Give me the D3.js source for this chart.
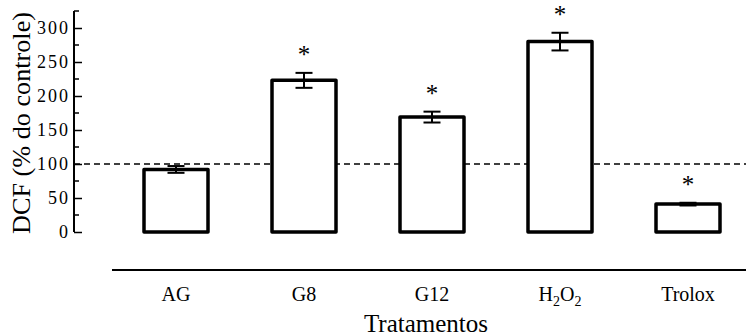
<!DOCTYPE html>
<html><head><meta charset="utf-8">
<script src="https://cdn.jsdelivr.net/npm/d3@7"></script>
<style>body{margin:0;background:#fff}svg{display:block}</style>
</head><body>
<svg id="c" width="746" height="336" font-family="Liberation Serif"></svg>
<script>
const categories = ["AG","G8","G12","H2O2","Trolox"];
const values = [92, 223, 169, 280, 41];
const errors = [5, 11, 8, 13, 2];
const significant = [false, true, true, true, true];
const yTicks = [0,50,100,150,200,250,300];
const minorTicks = [25,75,125,175,225,275,325];
const controlLevel = 100;
const FF = "Liberation Serif";

const svg = d3.select("#c");
const y = d3.scaleLinear().domain([0,325]).range([232,11]);
const x = d3.scalePoint().domain(categories).range([176,688]);
const bw = 64;
const ax = 74;

svg.append("line").attr("x1",ax).attr("x2",746).attr("y1",y(controlLevel)).attr("y2",y(controlLevel))
  .attr("stroke","#000").attr("stroke-width",1.5).attr("stroke-dasharray","6,4");

const yAxis = d3.axisRight(y).tickValues(yTicks).tickSize(8).tickFormat(d=>d);
const gy = svg.append("g").attr("transform","translate("+ax+",0)").call(yAxis).attr("font-family",FF);
gy.select(".domain").attr("d","M0,"+y(325)+"V"+y(0)).attr("stroke-width",2);
gy.selectAll(".tick line").attr("stroke-width",1.5);
gy.selectAll(".tick text").attr("x",-4).attr("text-anchor","end").attr("font-size",18)
  .attr("letter-spacing",2).attr("font-family",FF);
gy.selectAll(".minor").data(minorTicks).enter().append("line").attr("class","minor")
  .attr("x1",0).attr("x2",5).attr("y1",d=>y(d)).attr("y2",d=>y(d)).attr("stroke","#000").attr("stroke-width",1.5);

svg.selectAll("rect.bar").data(categories).enter().append("rect").attr("class","bar")
  .attr("x",d=>x(d)-bw/2).attr("width",bw)
  .attr("y",(d,i)=>y(values[i])).attr("height",(d,i)=>y(0)-y(values[i]))
  .attr("fill","#fff").attr("stroke","#000").attr("stroke-width",3.5).attr("stroke-linejoin","round");

const eg = svg.selectAll("g.err").data(categories).enter().append("g").attr("class","err");
eg.append("line").attr("x1",d=>x(d)).attr("x2",d=>x(d))
  .attr("y1",(d,i)=>y(values[i]+errors[i])).attr("y2",(d,i)=>y(values[i]-errors[i]))
  .attr("stroke","#000").attr("stroke-width",2);
eg.append("line").attr("x1",d=>x(d)-8.5).attr("x2",d=>x(d)+8.5)
  .attr("y1",(d,i)=>y(values[i]+errors[i])).attr("y2",(d,i)=>y(values[i]+errors[i]))
  .attr("stroke","#000").attr("stroke-width",2);
eg.append("line").attr("x1",d=>x(d)-8.5).attr("x2",d=>x(d)+8.5)
  .attr("y1",(d,i)=>y(values[i]-errors[i])).attr("y2",(d,i)=>y(values[i]-errors[i]))
  .attr("stroke","#000").attr("stroke-width",2);

svg.selectAll("text.star").data(categories.filter((d,i)=>significant[i])).enter().append("text")
  .attr("class","star").attr("x",d=>x(d)).attr("y",d=>{const i=categories.indexOf(d);return y(values[i]+errors[i])-10;})
  .attr("text-anchor","middle").attr("font-size",25).attr("font-family",FF).text("*");

svg.append("line").attr("x1",112).attr("x2",746).attr("y1",270).attr("y2",270).attr("stroke","#000").attr("stroke-width",1.8);

const xl = svg.selectAll("text.xl").data(categories).enter().append("text").attr("class","xl")
  .attr("x",d=>x(d)).attr("y",301).attr("text-anchor","middle").attr("font-size",20).attr("font-family",FF);
xl.each(function(d){
  const t=d3.select(this);
  if(d==="H2O2"){
    t.append("tspan").text("H");
    t.append("tspan").attr("font-size",14).attr("dy",5).text("2");
    t.append("tspan").attr("dy",-5).text("O");
    t.append("tspan").attr("font-size",14).attr("dy",5).text("2");
  } else t.text(d);
});

svg.append("text").attr("x",426).attr("y",332).attr("text-anchor","middle").attr("font-size",25).attr("font-family",FF).text("Tratamentos");
svg.append("text").attr("transform","translate(30,123) rotate(-90)").attr("text-anchor","middle")
  .attr("font-size",26).attr("textLength",222).attr("lengthAdjust","spacingAndGlyphs").attr("font-family",FF).text("DCF (% do controle)");
</script>
</body></html>
